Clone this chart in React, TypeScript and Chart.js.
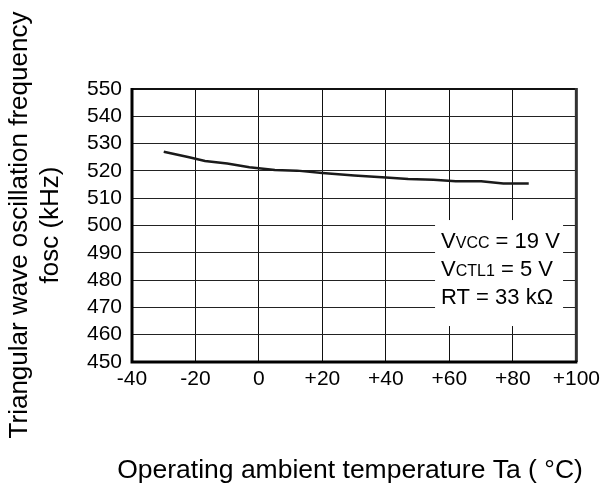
import React, { useEffect, useRef } from "react";
import { Chart, registerables } from "chart.js";

Chart.register(...registerables);

const temps = [-30, -22, -17, -10, -3, 5, 12, 20, 30, 40, 47, 55, 62, 70, 77, 85];
const freq = [527, 525, 523.6, 522.7, 521.3, 520.3, 520.1, 519.2, 518.3, 517.6, 517, 516.8, 516.2, 516.2, 515.4, 515.4];
const xTicks = [-40, -20, 0, 20, 40, 60, 80, 100];
const yTitle = ["Triangular wave oscillation frequency", "fosc (kHz)"];
const xTitle = "Operating ambient temperature Ta ( \u00B0C)";
const conditions = [
  { main: "V", sub: "VCC", rest: " = 19 V" },
  { main: "V", sub: "CTL1", rest: " = 5 V" },
  { main: "RT = 33 k\u03A9", sub: "", rest: "" },
];

const FONT = "'Liberation Sans', Arial, sans-serif";

export default function App() {
  const ref = useRef<HTMLCanvasElement>(null);
  useEffect(() => {
    const canvas = ref.current!;
    const decor = {
      id: "decor",
      beforeDatasetsDraw(chart: any) {
        const { ctx, chartArea: a } = chart;
        ctx.save();
        const bx = a.left + (a.right - a.left) * 0.682;
        const by = a.top + (a.bottom - a.top) * 0.48;
        ctx.fillStyle = "#fff";
        ctx.fillRect(bx, by, 128, 106);
        ctx.fillStyle = "#000";
        ctx.textBaseline = "alphabetic";
        ctx.textAlign = "left";
        conditions.forEach((c, i) => {
          let x = bx + 6;
          const y = by + 28 + i * 28;
          ctx.font = `22px ${FONT}`;
          ctx.fillText(c.main, x, y);
          x += ctx.measureText(c.main).width;
          if (c.sub) {
            ctx.font = `16px ${FONT}`;
            ctx.fillText(c.sub, x, y);
            x += ctx.measureText(c.sub).width;
          }
          if (c.rest) {
            ctx.font = `22px ${FONT}`;
            ctx.fillText(c.rest, x, y);
          }
        });
        ctx.restore();
      },
      afterDraw(chart: any) {
        const { ctx, chartArea: a } = chart;
        ctx.save();
        ctx.strokeStyle = "#111";
        ctx.lineWidth = 2;
        ctx.beginPath();
        ctx.moveTo(a.left, a.top);
        ctx.lineTo(a.right, a.top);
        ctx.stroke();
        ctx.lineWidth = 3;
        ctx.strokeStyle = "#333";
        ctx.beginPath();
        ctx.moveTo(a.right, a.top - 1);
        ctx.lineTo(a.right, a.bottom);
        ctx.stroke();
        ctx.strokeStyle = "#000";
        ctx.beginPath();
        ctx.moveTo(a.left, a.top - 1);
        ctx.lineTo(a.left, a.bottom);
        ctx.lineTo(a.right + 1, a.bottom);
        ctx.stroke();
        ctx.fillStyle = "#000";
        ctx.font = `26.5px ${FONT}`;
        ctx.textAlign = "center";
        ctx.textBaseline = "alphabetic";
        ctx.fillText(xTitle, 350, 478);
        ctx.font = `26px ${FONT}`;
        ctx.textBaseline = "middle";
        ctx.translate(20, 225);
        ctx.rotate(-Math.PI / 2);
        ctx.fillText(yTitle[0], 0, 0);
        ctx.fillText(yTitle[1], 0, 31);
        ctx.restore();
      },
    };
    const chart = new Chart(canvas, {
      type: "line",
      data: {
        datasets: [
          {
            data: temps.map((t, i) => ({ x: t, y: freq[i] })),
            borderColor: "#1a1a1a",
            borderWidth: 2.5,
            pointRadius: 0,
            tension: 0,
            fill: false,
          },
        ],
      },
      options: {
        animation: false,
        responsive: false,
        maintainAspectRatio: false,
        layout: { padding: { top: 89, right: 19, left: 0, bottom: 0 } },
        plugins: { legend: { display: false }, tooltip: { enabled: false } },
        scales: {
          x: {
            type: "linear",
            min: -40,
            max: 100,
            afterBuildTicks: (s: any) => {
              s.ticks = xTicks.map((v) => ({ value: v }));
            },
            afterFit: (s: any) => {
              s.height = 124;
            },
            ticks: {
              color: "#000",
              font: { family: FONT, size: 21 },
              padding: 5,
              maxRotation: 0,
              autoSkip: false,
              callback: (v: any) => (v > 0 ? "+" + v : String(v)),
            },
            grid: { color: "#111", lineWidth: 1, drawTicks: false },
            border: { display: false },
          },
          y: {
            min: 450,
            max: 550,
            afterFit: (s: any) => {
              s.width = 132;
            },
            ticks: {
              stepSize: 10,
              color: "#000",
              font: { family: FONT, size: 21 },
              padding: 10,
              autoSkip: false,
            },
            grid: { color: "#222", lineWidth: 1, drawTicks: false },
            border: { display: false },
          },
        },
      },
      plugins: [decor],
    });
    return () => chart.destroy();
  }, []);
  return (
    <div style={{ position: "fixed", left: 0, top: 0, width: 605, height: 486, background: "#fff" }}>
      <canvas ref={ref} width={605} height={486} style={{ width: 605, height: 486, display: "block" }} />
    </div>
  );
}
